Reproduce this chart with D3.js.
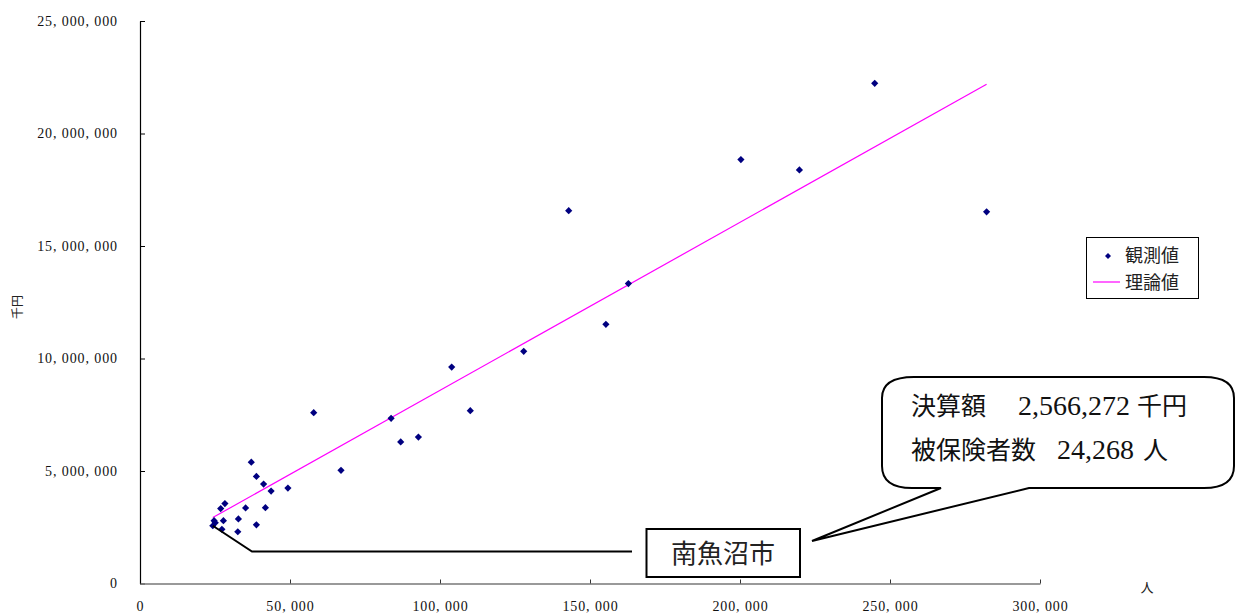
<!DOCTYPE html>
<html>
<head>
<meta charset="utf-8">
<script src="https://cdn.jsdelivr.net/npm/d3@7"></script>
<style>
  html, body { margin: 0; padding: 0; background: #fff; }
  svg { display: block; }
  .tick text { font-family: "Liberation Serif", "Noto Sans CJK JP", serif; font-size: 14px; fill: #111; letter-spacing: 0.9px; }
  .jp { font-family: "Noto Sans CJK JP", sans-serif; }
  .num { font-family: "Liberation Serif", serif; }
</style>
</head>
<body>
<svg id="chart" width="1236" height="615"></svg>
<script>
// 被保険者数 (人) and 決算額 (千円) per municipality
const insured = [
  244900, 200300, 219800, 142900, 282200, 162800, 155300, 127900,
  103900, 57900, 83700, 110100, 86900, 92800, 67000, 49300,
  37100, 38800, 41200, 43700, 28300, 26900, 35200, 41800,
  32800, 27800, 24700, 25100, 24268, 38800, 27300, 32600
];
const settled = [
  22230000, 18840000, 18380000, 16570000, 16520000, 13330000, 11520000, 10320000,
  9620000, 7590000, 7340000, 7680000, 6290000, 6510000, 5030000, 4240000,
  5390000, 4760000, 4420000, 4110000, 3550000, 3330000, 3360000, 3370000,
  2870000, 2790000, 2790000, 2700000, 2566272, 2610000, 2410000, 2300000
];

// 理論値 (regression line) at the smallest and largest 被保険者数
const theoryX = [24268, 282200];
const theoryY = [2930000, 22190000];

// axis ticks
const xTicks = [0, 50000, 100000, 150000, 200000, 250000, 300000];
const yTicks = [0, 5000000, 10000000, 15000000, 20000000, 25000000];

// highlighted municipality
const focusName = "南魚沼市";
const focusIndex = 28;
const calloutLines = [
  ["決算額", "2,566,272", "千円"],
  ["被保険者数", "24,268", "人"]
];
const legendLabels = ["観測値", "理論値"];

const svg = d3.select("#chart");

const x = d3.scaleLinear().domain([0, 300000]).range([140, 1040]);
const y = d3.scaleLinear().domain([0, 25000000]).range([583.5, 21]);

const fmt = v => d3.format(",")(v).replace(/,/g, ", ");

// y axis
const yAxis = svg.append("g")
  .attr("transform", `translate(${x(0)},0)`)
  .call(d3.axisLeft(y).tickValues(yTicks).tickFormat(fmt)
    .tickSizeInner(-5).tickSizeOuter(0).tickPadding(22));
yAxis.select(".domain").attr("stroke", "#000").attr("stroke-width", 1.2);
yAxis.selectAll(".tick line").attr("stroke", "#000");

// x axis
const xAxis = svg.append("g")
  .attr("transform", `translate(0,${y(0)})`)
  .call(d3.axisBottom(x).tickValues(xTicks).tickFormat(fmt)
    .tickSizeInner(-4).tickSizeOuter(0));
xAxis.select(".domain").attr("stroke", "#777").attr("stroke-width", 1.6);
xAxis.selectAll(".tick line").attr("stroke", "#333");
xAxis.selectAll(".tick text").attr("y", 27).attr("dy", 0);
xAxis.selectAll(".tick").filter(d => d === 0).select("line").remove();

// axis titles
svg.append("text").attr("class", "jp")
  .attr("transform", "translate(22,307) rotate(-90)")
  .attr("text-anchor", "middle").attr("font-size", 12).attr("fill", "#222")
  .text("千円");
svg.append("text").attr("class", "jp")
  .attr("x", 1147).attr("y", 592)
  .attr("text-anchor", "middle").attr("font-size", 13).attr("fill", "#222")
  .text("人");

// regression line
svg.append("path")
  .datum(theoryX.map((v, i) => [v, theoryY[i]]))
  .attr("fill", "none").attr("stroke", "#ff00ff").attr("stroke-width", 1.2)
  .attr("d", d3.line().x(d => x(d[0])).y(d => y(d[1])));

// observed points (diamonds)
const diamond = d3.symbol().type(d3.symbolSquare).size(26);
svg.append("g").selectAll("path")
  .data(insured.map((v, i) => [v, settled[i]]))
  .join("path")
  .attr("d", diamond)
  .attr("fill", "#000080")
  .attr("transform", d => `translate(${x(d[0])},${y(d[1])}) rotate(45)`);

// leader line from the highlighted point to its label
const fx = x(insured[focusIndex]), fy = y(settled[focusIndex]);
svg.append("path")
  .attr("fill", "none").attr("stroke", "#000").attr("stroke-width", 2)
  .attr("d", `M${fx},${fy} L252,551.5 H632`);

svg.append("rect")
  .attr("x", 646.5).attr("y", 529).attr("width", 153.5).attr("height", 48)
  .attr("fill", "#fff").attr("stroke", "#000").attr("stroke-width", 2);
svg.append("text").attr("class", "jp")
  .attr("x", 723).attr("y", 563).attr("text-anchor", "middle")
  .attr("font-size", 26).attr("fill", "#222")
  .text(focusName);

// speech bubble
svg.append("path")
  .attr("fill", "#fff").attr("stroke", "#000").attr("stroke-width", 2)
  .attr("d", "M914,377 H1204 Q1234,377 1234,398 V466 Q1234,488 1204,488 H1029 L812,541 L941,488 H912 Q882,488 882,466 V398 Q882,377 914,377 Z");

const lineY = [415, 459];
const partX = [[911, 1018, 1137], [911, 1057, 1143]];
calloutLines.forEach((parts, i) => {
  const t = svg.append("text").attr("y", lineY[i]).attr("fill", "#111");
  t.append("tspan").attr("class", "jp").attr("x", partX[i][0]).attr("font-size", 25).text(parts[0]);
  t.append("tspan").attr("class", "num").attr("x", partX[i][1]).attr("font-size", 28).text(parts[1]);
  t.append("tspan").attr("class", "jp").attr("x", partX[i][2]).attr("font-size", 25).text(parts[2]);
});

// legend
const lg = svg.append("g");
lg.append("rect")
  .attr("x", 1086.5).attr("y", 237.5).attr("width", 112).attr("height", 61)
  .attr("fill", "#fff").attr("stroke", "#000").attr("stroke-width", 1);
lg.append("path").attr("d", d3.symbol().type(d3.symbolSquare).size(18))
  .attr("fill", "#000080").attr("transform", "translate(1108,256) rotate(45)");
lg.append("line").attr("x1", 1093).attr("x2", 1120).attr("y1", 282).attr("y2", 282)
  .attr("stroke", "#ff00ff").attr("stroke-width", 1.2);
legendLabels.forEach((t, i) => {
  lg.append("text").attr("class", "jp")
    .attr("x", 1125).attr("y", 262 + i * 27)
    .attr("font-size", 18).attr("fill", "#222").text(t);
});
</script>
</body>
</html>
